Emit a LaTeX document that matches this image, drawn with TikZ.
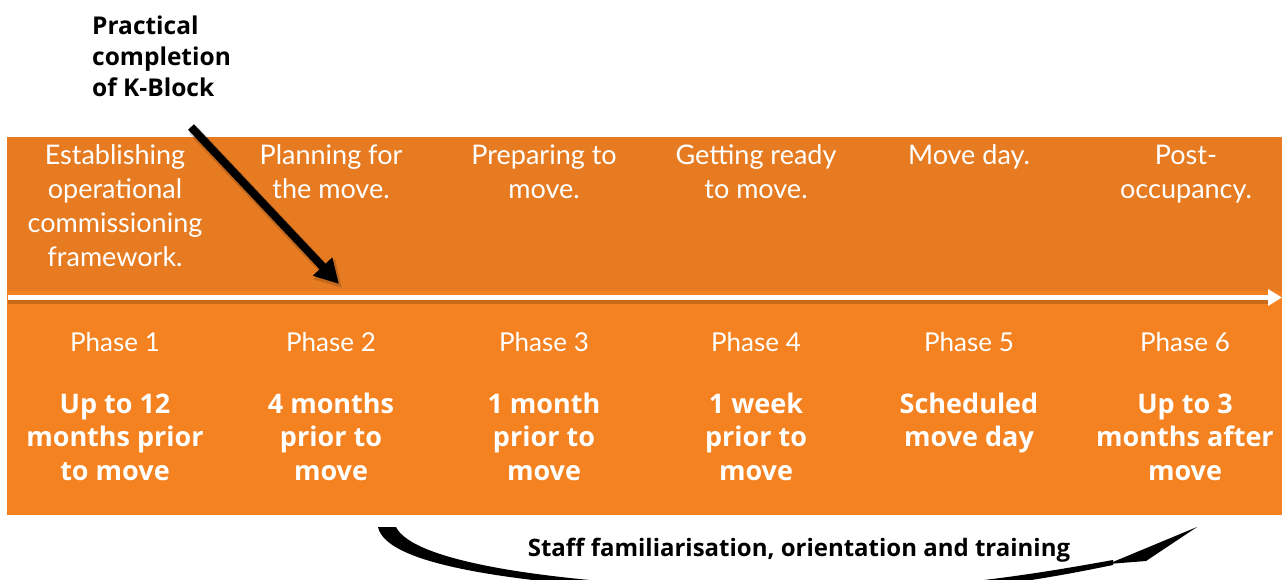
\documentclass[tikz,border=0pt]{standalone}
\usepackage{fontspec}
\setmainfont{Lato}
\newfontfamily\heavyfont{Open Sans}
\usetikzlibrary{arrows.meta}
\definecolor{topband}{HTML}{E67B22}
\definecolor{lowband}{HTML}{F58220}
\begin{document}
\begin{tikzpicture}[x=1pt,y=-1pt,
  toptext/.style={anchor=base,align=center,text=white,inner sep=0pt,
    font=\fontsize{27}{33.7}\selectfont},
  phasetext/.style={anchor=base,text=white,inner sep=0pt,
    font=\fontsize{26}{31}\selectfont},
  boldtext/.style={anchor=base,align=center,text=white,inner sep=0pt,
    font=\heavyfont\bfseries\fontsize{27}{33.5}\selectfont},
  notetext/.style={anchor=base west,align=left,text=black,inner sep=0pt,
    font=\heavyfont\bfseries\fontsize{24.5}{31}\selectfont},
  stafftext/.style={anchor=base,text=black,inner sep=0pt,
    font=\heavyfont\bfseries\fontsize{24}{28}\selectfont},
  pointer/.style={black,line width=8pt,-{Triangle[length=24pt,width=25pt]}},
  pointershadow/.style={black,opacity=0.15,line width=11pt,-{Triangle[length=26pt,width=28pt]}},
  timeline/.style={white,line width=5pt,-{Triangle[length=14pt,width=16pt]}}]
\useasboundingbox (0,0) rectangle (1282,580);
% bands
\fill[topband] (7,137) rectangle (1282,291);
\fill[lowband] (7,291) rectangle (1282,515);
% timeline
\fill[black,opacity=0.18] (8,300) rectangle (1270,304);
\coordinate (wl) at (8,297.5);
\coordinate (wr) at (1282,297.5);
\draw[timeline] (wl) -- (wr);
% top texts (anchor = baseline of last line)
\node[toptext] (t1) at (115,266) {Establishing\\operational\\commissioning\\framework.};
\node[toptext] (t2) at (331,198.7) {Planning for\\the move.};
\node[toptext] (t3) at (544,198.7) {Preparing to\\move.};
\node[toptext] (t4) at (756,198.7) {Getting ready\\to move.};
\node[toptext] (t5) at (969,165) {Move day.};
\node[toptext] (t6) at (1186,198.7) {Post-\\occupancy.};
% phase labels
\node[phasetext] (p1) at (115,351) {Phase 1};
\node[phasetext] (p2) at (331,351) {Phase 2};
\node[phasetext] (p3) at (544,351) {Phase 3};
\node[phasetext] (p4) at (756,351) {Phase 4};
\node[phasetext] (p5) at (969,351) {Phase 5};
\node[phasetext] (p6) at (1185,351) {Phase 6};
% bold time texts
\node[boldtext] (b1) at (115,480) {Up to 12\\months prior\\to move};
\node[boldtext] (b2) at (331,480) {4 months\\prior to\\move};
\node[boldtext] (b3) at (544,480) {1 month\\prior to\\move};
\node[boldtext] (b4) at (756,480) {1 week\\prior to\\move};
\node[boldtext] (b5) at (969,446.5) {Scheduled\\move day};
\node[boldtext] (b6) at (1185,480) {Up to 3\\months after\\move};
% note and pointer
\node[notetext] (note) at (92,97) {Practical\\completion\\of K-Block};
\coordinate (ka) at (191,127);
\coordinate (kb) at (339,284);
\coordinate (kas) at (193,130);
\coordinate (kbs) at (342,288);
\draw[pointershadow] (kas) -- (kbs);
\draw[pointer] (ka) -- (kb);
% bottom curved arrow
\node[stafftext] (staff) at (799,556) {Staff familiarisation, orientation and training};
\coordinate (c0) at (378,527);
\coordinate (c1) at (396,527);
\coordinate (cm) at (780,596);
\coordinate (cn) at (780,590);
\coordinate (ce) at (1113,565);
\coordinate (cf) at (1113,560);
\fill[black] (c0) .. controls (386,566) and (520,588) .. (cm)
  .. controls (930,600) and (1040,580) .. (ce)
  -- (cf) .. controls (1040,573) and (930,593) .. (cn)
  .. controls (540,585) and (412,560) .. (c1) -- cycle;
\coordinate (h1) at (1108,564);
\coordinate (h2) at (1146,561);
\coordinate (h3) at (1197,527);
\fill[black] (h1) -- (h2) -- (h3) -- cycle;
\end{tikzpicture}
\end{document}
